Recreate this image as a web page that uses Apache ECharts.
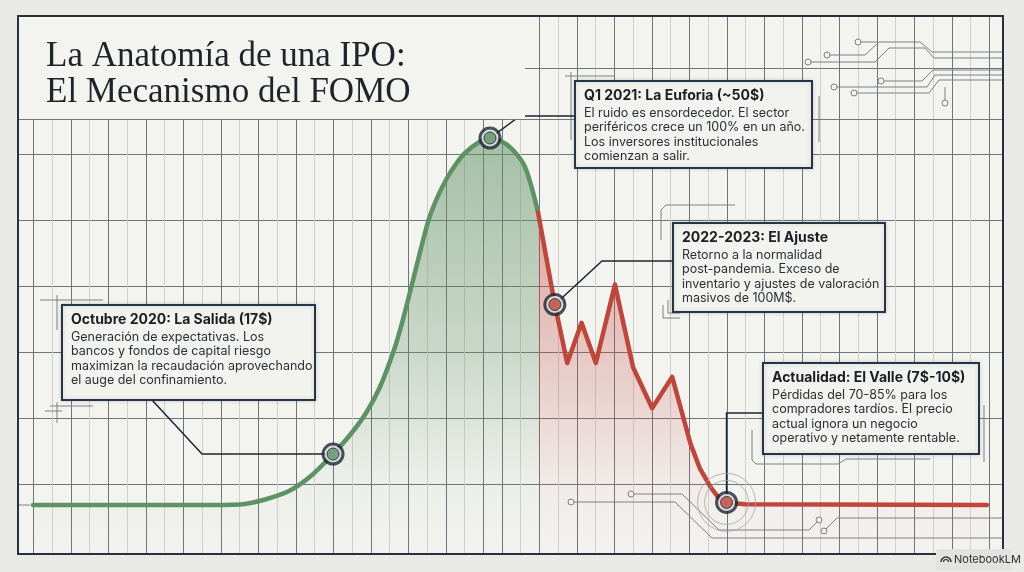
<!DOCTYPE html>
<html>
<head>
<meta charset="utf-8">
<script src="https://cdn.jsdelivr.net/npm/echarts@6/dist/echarts.min.js"></script>
<style>
html,body{margin:0;padding:0;background:#e9e9e6;}
#c{width:1024px;height:572px;}
</style>
</head>
<body>
<div id="c"></div>
<script>
// ---------- DATA (x = time index 0-100, y = price in $) ----------
const greenT = [0, 17.5, 21.7, 24.32, 26.94, 29.25, 31.45, 33.23, 34.91, 36.37, 37.84, 38.68, 39.52, 41.4, 42.35, 43.4, 44.34, 45.28, 46.86, 47.9, 48.95, 50.21, 51.57, 52.94];
const greenV = [8.0, 8.0, 8.06, 8.63, 9.66, 11.44, 13.85, 16.03, 18.56, 21.54, 25.79, 28.88, 32.44, 40.47, 43.22, 45.52, 47.13, 48.39, 49.71, 50.11, 49.83, 48.85, 46.79, 41.58];
const redT = [52.94, 54.7, 56.0, 57.5, 59.0, 61.0, 62.9, 64.9, 67.0, 68.9, 69.9, 71.0, 71.8, 72.7, 74.6, 100];
const redV = [41.58, 31.0, 24.3, 28.9, 24.3, 33.3, 23.8, 19.1, 22.7, 15.1, 12.2, 10.1, 8.9, 8.3, 8.1, 8.0];

const markerT = [31.45, 47.9, 54.7, 72.7];
const markerV = [13.85, 50.11, 31.0, 8.3];
const markerPhase = ['up', 'up', 'down', 'down'];

const titleLines = ['La Anatomía de una IPO:', 'El Mecanismo del FOMO'];
const boxTitles = [
  'Octubre 2020: La Salida (17$)',
  'Q1 2021: La Euforia (~50$)',
  '2022-2023: El Ajuste',
  'Actualidad: El Valle (7$-10$)'
];
const boxBodies = [
  ['Generación de expectativas. Los', 'bancos y fondos de capital riesgo', 'maximizan la recaudación aprovechando', 'el auge del confinamiento.'],
  ['El ruido es ensordecedor. El sector', 'periféricos crece un 100% en un año.', 'Los inversores institucionales', 'comienzan a salir.'],
  ['Retorno a la normalidad', 'post-pandemia. Exceso de', 'inventario y ajustes de valoración', 'masivos de 100M$.'],
  ['Pérdidas del 70-85% para los', 'compradores tardíos. El precio', 'actual ignora un negocio', 'operativo y netamente rentable.']
];
const watermark = 'NotebookLM';

// ---------- LAYOUT / STYLE ----------
const GREEN = '#5e9163', RED = '#c0453b', INK = '#1c2631', BG = '#f3f3f0', MARGIN = '#e9e9e6';
const GRIDC = '#70757a', MINORC = '#d0d0cb', DECO = '#7c8084';
const boxRects = [
  {x: 62, y: 305, w: 253, h: 95},
  {x: 575, y: 81, w: 237, h: 87},
  {x: 673, y: 223, w: 212, h: 89},
  {x: 763, y: 363, w: 216, h: 91}
];

const chart = echarts.init(document.getElementById('c'), null, {renderer: 'canvas'});
const green = greenT.map((t, i) => [t, greenV[i]]);
const red = redT.map((t, i) => [t, redV[i]]);
const markerData = () => markerT.map((t, i) => ({value: [t, markerV[i]]}));

const noAxis = {axisLine: {show: false}, axisTick: {show: false}, axisLabel: {show: false}};
const vSplit = {splitLine: {show: true, lineStyle: {color: GRIDC, width: 1}},
  minorTick: {show: false, splitNumber: 2},
  minorSplitLine: {show: true, lineStyle: {color: MINORC, width: 1}}};
const off = {splitLine: {show: false}};

chart.setOption({
  backgroundColor: BG,
  animation: false,
  grid: [
    {left: 33.3, top: 16, width: 450, height: 538, show: false},      // paper, left vertical lines
    {left: 501.8, top: 16, width: 487.5, height: 538, show: false},   // paper, right vertical lines
    {left: 18, top: 154, width: 985, height: 330, show: false},       // paper, horizontal lines
    {left: 33, top: 34.4, width: 954, height: 522.9, show: false}     // data
  ],
  xAxis: [
    Object.assign({gridIndex: 0, type: 'value', min: 0, max: 12, interval: 1}, noAxis, vSplit),
    Object.assign({gridIndex: 1, type: 'value', min: 0, max: 13, interval: 1}, noAxis, vSplit),
    Object.assign({gridIndex: 2, type: 'value', min: 0, max: 1}, noAxis, off),
    {gridIndex: 3, type: 'value', min: 0, max: 100, show: false}
  ],
  yAxis: [
    Object.assign({gridIndex: 0, type: 'value', min: 0, max: 1}, noAxis, off),
    Object.assign({gridIndex: 1, type: 'value', min: 0, max: 1}, noAxis, off),
    Object.assign({gridIndex: 2, type: 'value', min: 0, max: 5, interval: 1,
      splitLine: {show: true, lineStyle: {color: GRIDC, width: 1}}}, noAxis),
    {gridIndex: 3, type: 'value', min: 2, max: 62, show: false}
  ],
  series: [
    {
      type: 'line', xAxisIndex: 3, yAxisIndex: 3, data: green, smooth: 0.3, symbol: 'none', z: 3,
      lineStyle: {color: GREEN, width: 4.5, cap: 'round', join: 'round'},
      areaStyle: {color: new echarts.graphic.LinearGradient(0, 0, 0, 1, [
        {offset: 0, color: 'rgba(94,145,99,0.75)'},
        {offset: 0.5, color: 'rgba(94,145,99,0.4)'},
        {offset: 0.8, color: 'rgba(94,145,99,0.08)'},
        {offset: 1, color: 'rgba(94,145,99,0)'}
      ])}
    },
    {
      type: 'line', xAxisIndex: 3, yAxisIndex: 3, data: red, smooth: false, symbol: 'none', z: 3,
      lineStyle: {color: RED, width: 4.5, cap: 'round', join: 'round'},
      areaStyle: {color: new echarts.graphic.LinearGradient(0, 0, 0, 1, [
        {offset: 0, color: 'rgba(192,69,59,0.62)'},
        {offset: 0.45, color: 'rgba(192,69,59,0.32)'},
        {offset: 0.8, color: 'rgba(192,69,59,0.06)'},
        {offset: 1, color: 'rgba(192,69,59,0)'}
      ])}
    },
    {
      type: 'scatter', xAxisIndex: 3, yAxisIndex: 3, z: 5, silent: true,
      data: [[markerT[3], markerV[3]]], symbolSize: 58,
      itemStyle: {color: 'rgba(0,0,0,0)', borderColor: '#a3a5a7', borderWidth: 1}
    },
    {
      type: 'scatter', xAxisIndex: 3, yAxisIndex: 3, z: 5, silent: true,
      data: [[markerT[3], markerV[3]]], symbolSize: 44,
      itemStyle: {color: 'rgba(0,0,0,0)', borderColor: '#a3a5a7', borderWidth: 1}
    },
    {
      type: 'scatter', xAxisIndex: 3, yAxisIndex: 3, z: 6, silent: true,
      data: markerData(), symbolSize: 23, itemStyle: {color: INK}
    },
    {
      type: 'scatter', xAxisIndex: 3, yAxisIndex: 3, z: 7, silent: true,
      data: markerData(), symbolSize: 17, itemStyle: {color: '#ffffff'}
    },
    {
      type: 'scatter', xAxisIndex: 3, yAxisIndex: 3, z: 8, silent: true,
      data: markerT.map((t, i) => ({value: [t, markerV[i]], itemStyle: {color: markerPhase[i] === 'up' ? GREEN : RED}})),
      symbolSize: 12, itemStyle: {borderColor: INK, borderWidth: 1}
    }
  ]
});

// ---------- ANNOTATIONS (positioned from the markers' computed pixels) ----------
const mp = markerT.map((t, i) => chart.convertToPixel({gridIndex: 3}, [t, markerV[i]]));
const leaders = [
  [mp[0], [202, mp[0][1]], [152, 400]],
  [mp[1], [520, 116], [575, 116]],
  [mp[2], [602, 261], [673, 261]],
  [mp[3], [mp[3][0], 413], [763, 413]]
];

const decoLines = [
  [[861,42],[877,42]],
  [[830,55],[865,55],[879,42],[920,42],[932,52],[1003,52]],
  [[811,62],[875,62],[889,48],[925,48],[934,58],[1003,58]],
  [[884,81],[922,81],[933,70],[1003,70]],
  [[837,87],[927,87],[935,75],[1003,75]],
  [[857,93],[929,93],[939,80],[1003,80]],
  [[945,87],[945,100]],
  [[574,502],[675,502],[712,538],[1003,538]],
  [[634,494],[682,494],[719,530],[809,530],[817,522]],
  [[826,529],[837,518],[1003,518]],
  [[752,430],[752,460],[756,464],[838,464],[846,459],[930,459]],
  [[984,405],[984,462]],
  [[565,76],[615,76]], [[571,72],[571,140]], [[819,96],[819,142]],
  [[40,300],[103,300]], [[57,295],[57,330]],
  [[50,406],[93,406]], [[45,411],[62,411]], [[57,402],[57,423]],
  [[18,505],[30,505]],
  [[661,240],[661,210],[666,205],[735,205]],
  [[663,305],[663,318],[680,318]], [[668,300],[668,313],[680,313]]
];
const decoDots = [[858,42],[827,55],[808,62],[881,81],[834,87],[854,93],[945,103],
  [571,502],[631,494],[819,520],[824,531]];

const graphics = [];
// extra paper lines above the regular horizontal grid
graphics.push({type: 'line', silent: true, z: 1, shape: {x1: 18, y1: 68.5, x2: 1003, y2: 68.5}, style: {stroke: GRIDC, lineWidth: 1}});
// title panel
graphics.push({type: 'rect', silent: true, z: 5, shape: {x: 19, y: 17, width: 506, height: 102}, style: {fill: BG}});
graphics.push({type: 'line', silent: true, z: 6, shape: {x1: 18, y1: 119.5, x2: 1003, y2: 119.5}, style: {stroke: GRIDC, lineWidth: 1}});
titleLines.forEach((t, i) => graphics.push({
  type: 'text', silent: true, z: 7, x: 46, y: 56.5 + i * 36,
  style: {text: t, font: '35px "Liberation Serif", serif', fill: '#1f2429', verticalAlign: 'middle', textVerticalAlign: 'middle'}
}));
// decorations
decoLines.forEach(p => graphics.push({type: 'polyline', silent: true, z: 2, shape: {points: p}, style: {stroke: DECO, lineWidth: 1, fill: null}}));
decoDots.forEach(p => graphics.push({type: 'circle', silent: true, z: 2, shape: {cx: p[0], cy: p[1], r: 3}, style: {stroke: DECO, lineWidth: 1, fill: BG}}));
// leaders
leaders.forEach(p => graphics.push({type: 'polyline', silent: true, z: 4, shape: {points: p}, style: {stroke: INK, lineWidth: 1.5, fill: null}}));
// boxes
boxRects.forEach((b, i) => {
  graphics.push({type: 'rect', silent: true, z: 20, shape: {x: b.x, y: b.y, width: b.w, height: b.h},
    style: {fill: '#f2f2ef', stroke: '#26344a', lineWidth: 2, shadowBlur: 4, shadowColor: 'rgba(0,0,0,0.15)'}});
  graphics.push({type: 'text', silent: true, z: 21, x: b.x + 9, y: b.y + 14.3,
    style: {text: boxTitles[i], font: 'bold 14px Inter, "Noto Sans", sans-serif', fill: '#1a1f24', verticalAlign: 'middle', textVerticalAlign: 'middle'}});
  graphics.push({type: 'text', silent: true, z: 21, x: b.x + 9, y: b.y + 25,
    style: {text: boxBodies[i].join('\n'), font: '12.5px Inter, "Noto Sans", sans-serif', lineHeight: 14.3, fill: '#2a2f35', verticalAlign: 'top', textVerticalAlign: 'top'}});
});
// margins + frame
graphics.push({type: 'rect', silent: true, z: 50, shape: {x: 0, y: 0, width: 1024, height: 16}, style: {fill: MARGIN}});
graphics.push({type: 'rect', silent: true, z: 50, shape: {x: 0, y: 554, width: 1024, height: 18}, style: {fill: MARGIN}});
graphics.push({type: 'rect', silent: true, z: 50, shape: {x: 0, y: 0, width: 18, height: 572}, style: {fill: MARGIN}});
graphics.push({type: 'rect', silent: true, z: 50, shape: {x: 1003, y: 0, width: 21, height: 572}, style: {fill: MARGIN}});
graphics.push({type: 'rect', silent: true, z: 51, shape: {x: 18, y: 16, width: 985, height: 538}, style: {fill: null, stroke: '#27313d', lineWidth: 2}});
// watermark
graphics.push({type: 'rect', silent: true, z: 52, shape: {x: 936, y: 549, width: 76, height: 21, r: 3}, style: {fill: '#e2e2df'}});
graphics.push({type: 'arc', silent: true, z: 53, shape: {cx: 946, cy: 562, r: 5, startAngle: Math.PI, endAngle: 2 * Math.PI}, style: {stroke: '#333', lineWidth: 1.5, fill: null}});
graphics.push({type: 'arc', silent: true, z: 53, shape: {cx: 946, cy: 562, r: 2.5, startAngle: Math.PI, endAngle: 2 * Math.PI}, style: {stroke: '#333', lineWidth: 1.2, fill: null}});
graphics.push({type: 'text', silent: true, z: 53, x: 954, y: 559.5,
  style: {text: watermark, font: '11px Inter, sans-serif', fill: '#2c2f33', verticalAlign: 'middle', textVerticalAlign: 'middle'}});

chart.setOption({graphic: graphics});
</script>
</body>
</html>
